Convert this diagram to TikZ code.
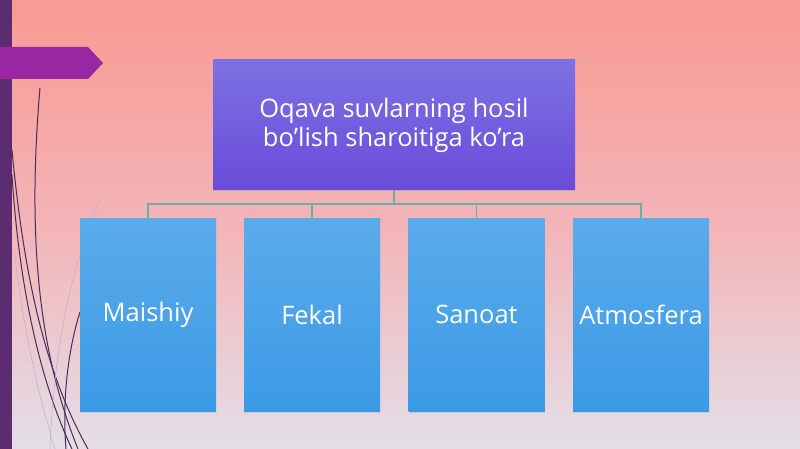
\documentclass[tikz,border=0pt]{standalone}
\usepackage{fontspec}
\setmainfont{Open Sans}
\usetikzlibrary{shadows}
\definecolor{bgtop}{HTML}{F99A92}
\definecolor{bgmid}{HTML}{F3B4B8}
\definecolor{bgbot}{HTML}{E4DEE7}
\definecolor{barc}{HTML}{5B2C6F}
\definecolor{tabc}{HTML}{9A27A2}
\definecolor{toptop}{HTML}{7C72E4}
\definecolor{topbot}{HTML}{6A4BD9}
\definecolor{chtop}{HTML}{5BABEA}
\definecolor{chbot}{HTML}{3B9AE6}
\definecolor{linec}{HTML}{6AAFA6}
\definecolor{curvec}{HTML}{4A2A58}
\tikzset{
  parentbox/.style={draw=none, top color=toptop, bottom color=topbot, minimum width=362pt, minimum height=130pt, inner sep=0pt, text=white, align=center, font=\fontsize{25.5}{29}\selectfont, drop shadow={shadow xshift=0pt, shadow yshift=-1.5pt, opacity=0.25}},
  childbox/.style={draw=none, top color=chtop, bottom color=chbot, minimum width=136pt, minimum height=193pt, inner sep=0pt, text=white, font=\fontsize{25.5}{29}\selectfont, drop shadow={shadow xshift=0pt, shadow yshift=-1.5pt, opacity=0.2}},
  conn/.style={draw=linec, line width=1.3pt},
  deco/.style={draw=curvec, line width=1pt},
  decofaint/.style={draw=curvec!35, line width=0.6pt}
}
\begin{document}
\begin{tikzpicture}[x=1pt,y=-1pt]
\useasboundingbox (0,0) rectangle (800,449);
\shade[top color=bgtop, bottom color=bgbot, middle color=bgmid] (0,0) rectangle (800,449);
% left bar
\fill[barc] (0,0) rectangle (12,449);
% decorative curves
\draw[deco] (40,88) .. controls (26,250) and (42,360) .. (78,449);
\draw[deco] (12,150) .. controls (26,300) and (52,385) .. (88,449);
\draw[deco] (12,175) .. controls (20,300) and (44,390) .. (72,449);
\draw[deco] (80,312) .. controls (68,350) and (62,400) .. (66,449);
\draw[decofaint] (100,200) .. controls (75,260) and (55,330) .. (50,449);
\draw[decofaint] (14,250) .. controls (25,340) and (40,400) .. (55,449);
% tab arrow
\fill[tabc] (0,47) -- (88,47) -- (103,63) -- (88,79) -- (0,79) -- cycle;
% nodes
\node[parentbox] (p) at (394,125) {Oqava suvlarning hosil\\bo’lish sharoitiga ko’ra};
\node[childbox] (c1) at (148,314.5) {Maishiy};
\node[childbox] (c2) at (312,314.5) {Fekal};
\node[childbox] (c3) at (476.5,314.5) {Sanoat};
\node[childbox] (c4) at (641,314.5) {Atmosfera};
% connectors
\coordinate (hb) at (394,204);
\draw[conn] (p.south) -- (hb);
\draw[conn] (c1.north) -- (c1.north |- hb) -- (c4.north |- hb) -- (c4.north);
\draw[conn] (c2.north) -- (c2.north |- hb);
\draw[conn] (c3.north) -- (c3.north |- hb);
\end{tikzpicture}
\end{document}
